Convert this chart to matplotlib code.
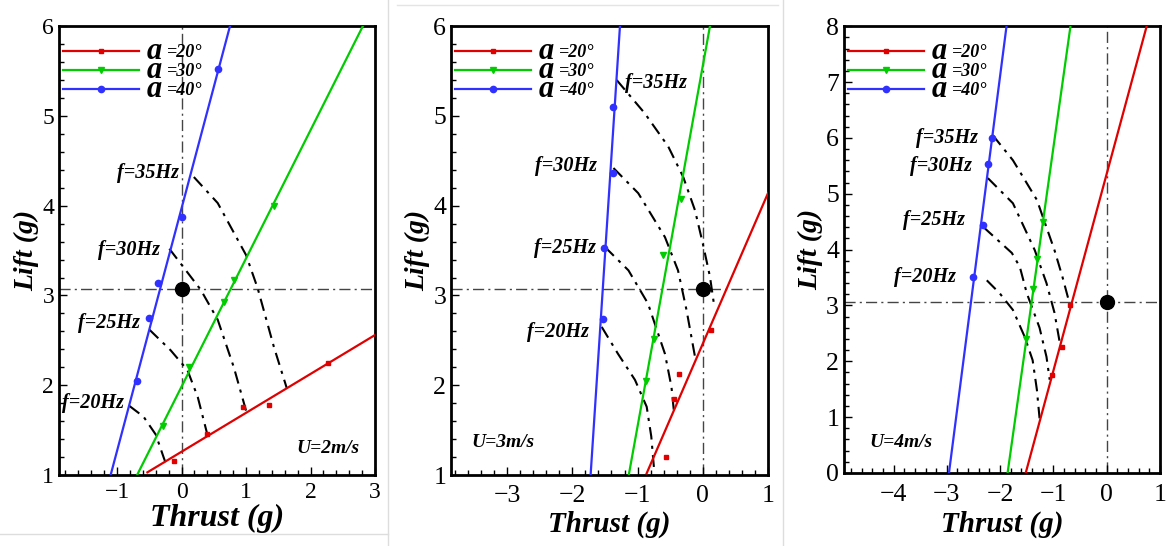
import matplotlib
matplotlib.use('Agg')
import matplotlib.pyplot as plt
from matplotlib.lines import Line2D
from matplotlib.ticker import MultipleLocator

plt.rcParams['font.family'] = 'Liberation Serif'

angles = ['20', '30', '40']
freqs = ['20', '25', '30', '35']
weight = 3.07

# ---- U = 2 m/s ----
u2_a20_x = [-0.11, 0.40, 0.95, 1.35, 2.27]
u2_a20_y = [1.16, 1.46, 1.76, 1.78, 2.25]
u2_a30_x = [-0.29, 0.11, 0.65, 0.81, 1.43]
u2_a30_y = [1.55, 2.20, 2.93, 3.17, 4.00]
u2_a40_x = [-0.69, -0.50, -0.36, 0.00, 0.57]
u2_a40_y = [2.05, 2.75, 3.14, 3.87, 5.52]
u2_fit_x = [[-0.53, 3.0], [-0.69, 2.81], [-1.10, 0.75]]
u2_fit_y = [[1.03, 2.56], [1.0, 6.0], [1.0, 6.0]]
u2_f_x = [[-0.81, -0.59, -0.40, -0.28, -0.25],
          [-0.50, -0.17, 0.09, 0.25, 0.40],
          [-0.19, -0.05, 0.30, 0.56, 0.81, 1.01],
          [0.19, 0.56, 1.00, 1.18, 1.43, 1.63]]
u2_f_y = [[1.77, 1.65, 1.45, 1.20, 1.14],
          [2.62, 2.39, 2.17, 1.87, 1.45],
          [3.52, 3.39, 3.06, 2.73, 2.20, 1.69],
          [4.32, 4.03, 3.45, 3.08, 2.43, 1.97]]
u2_lab_x = [-1.85, -1.60, -1.30, -1.00]
u2_lab_y = [1.80, 2.69, 3.51, 4.36]

# ---- U = 3 m/s ----
u3_a20_x = [-0.57, -0.44, -0.37, 0.13]
u3_a20_y = [1.20, 1.85, 2.12, 2.62]
u3_a30_x = [-0.87, -0.75, -0.61, -0.34]
u3_a30_y = [2.05, 2.52, 3.45, 4.07]
u3_a40_x = [-1.53, -1.52, -1.38, -1.38]
u3_a40_y = [2.74, 3.53, 4.36, 5.10]
u3_fit_x = [[-0.86, 1.0], [-1.135, 0.11], [-1.72, -1.27]]
u3_fit_y = [[1.02, 4.14], [1.0, 6.0], [1.0, 6.0]]
u3_f_x = [[-1.55, -1.30, -1.04, -0.86, -0.79, -0.75],
          [-1.50, -1.14, -0.84, -0.58, -0.48, -0.44],
          [-1.37, -0.99, -0.58, -0.38, -0.25, -0.12],
          [-1.32, -0.89, -0.53, -0.30, -0.12, 0.00, 0.11, 0.17]]
u3_f_y = [[2.65, 2.35, 2.06, 1.76, 1.43, 1.09],
          [3.54, 3.28, 2.91, 2.35, 1.98, 1.69],
          [4.42, 4.14, 3.65, 3.28, 2.84, 2.32],
          [5.40, 5.03, 4.66, 4.32, 3.95, 3.58, 3.21, 2.91]]
u3_lab_x = [-2.70, -2.59, -2.58, -1.20]
u3_lab_y = [2.59, 3.53, 4.44, 5.37]

# ---- U = 4 m/s ----
u4_a20_x = [-1.03, -0.84, -0.69]
u4_a20_y = [1.76, 2.26, 3.01]
u4_a30_x = [-1.52, -1.39, -1.31, -1.20]
u4_a30_y = [2.40, 3.29, 3.83, 4.49]
u4_a40_x = [-2.51, -2.33, -2.23, -2.16]
u4_a40_y = [3.51, 4.44, 5.53, 6.00]
u4_fit_x = [[-1.52, 0.75], [-1.86, -0.68], [-2.96, -1.88]]
u4_fit_y = [[0.0, 8.0], [0.0, 8.0], [0.0, 8.0]]
u4_f_x = [[-2.25, -2.01, -1.76, -1.54, -1.39, -1.31, -1.26],
          [-2.31, -1.78, -1.63, -1.50, -1.26, -1.13, -1.07],
          [-2.23, -1.76, -1.35, -1.13, -0.98, -0.88],
          [-2.14, -1.76, -1.31, -1.16, -0.98, -0.83, -0.69]]
u4_f_y = [[3.45, 3.22, 2.92, 2.44, 2.02, 1.49, 0.98],
          [4.40, 3.94, 3.69, 3.22, 2.60, 2.08, 1.67],
          [5.28, 4.83, 3.99, 3.40, 2.87, 2.33],
          [6.05, 5.60, 4.89, 4.48, 3.99, 3.51, 3.01]]
u4_lab_x = [-4.00, -3.83, -3.70, -3.57]
u4_lab_y = [3.51, 4.53, 5.50, 6.00]

colors = ['#e00000', '#00cc00', '#3030ff']
markers = ['s', 'v', 'o']
msizes = [3, 4, 4.5]


def draw_panel(ax, pts, fit_x, fit_y, f_x, f_y, lab_x, lab_y, speed, speed_pos,
               xlim, ylim, tfs, xfs, xpad, lpad):
	ax.axhline(weight, color='#444444', lw=1, ls=(0, (8, 3, 1.5, 3)), zorder=1)
	ax.axvline(0, color='#444444', lw=1, ls=(0, (8, 3, 1.5, 3)), zorder=1)
	for i in range(3):
		ax.plot(fit_x[i], fit_y[i], color=colors[i], lw=1.6, zorder=3)
		ax.plot(pts[i][0], pts[i][1], ls='none', marker=markers[i],
			ms=msizes[i], color=colors[i], zorder=4)
	for j in range(len(freqs)):
		ax.plot(f_x[j], f_y[j], color='black', lw=1.5,
			ls=(0, (6, 3, 1.5, 3)), zorder=2)
		ax.text(lab_x[j], lab_y[j], 'f=' + freqs[j] + 'Hz', fontsize=14.5,
			fontweight='bold', style='italic', ha='left', va='center')
	ax.plot([0], [weight], 'o', color='black', ms=10, zorder=5)
	ax.text(speed_pos[0], speed_pos[1], 'U=' + speed + 'm/s', fontsize=14,
		fontweight='bold', style='italic', ha='left', va='center')
	ax.set_xlim(xlim)
	ax.set_ylim(ylim)
	ax.xaxis.set_major_locator(MultipleLocator(1))
	ax.xaxis.set_minor_locator(MultipleLocator(0.2))
	ax.yaxis.set_major_locator(MultipleLocator(1))
	ax.yaxis.set_minor_locator(MultipleLocator(0.2))
	ax.tick_params(which='both', direction='in', top=False, right=False,
		labelsize=tfs, width=1)
	ax.tick_params(axis='x', which='major', pad=xpad)
	ax.tick_params(which='major', length=6)
	ax.tick_params(which='minor', length=3.5)
	for s in ax.spines.values():
		s.set_linewidth(2)
	ax.set_xlabel('Thrust (g)', fontsize=xfs, fontweight='bold', style='italic',
		labelpad=lpad)
	ax.set_ylabel('Lift (g)', fontsize=20, fontweight='bold', style='italic',
		labelpad=2)
	handles = [Line2D([], [], color=colors[i], marker=markers[i], ms=msizes[i],
		lw=1.6) for i in range(3)]
	leg = ax.legend(handles, ['=' + a + '\u00b0' for a in angles], loc='upper left',
		bbox_to_anchor=(0.013, 0.960), borderpad=0, borderaxespad=0,
		frameon=False, handlelength=4.2, handletextpad=1.55, labelspacing=0.12,
		prop={'family': 'Liberation Serif', 'weight': 'bold',
			'style': 'italic', 'size': 13})
	return leg


fig = plt.figure(figsize=(11.67, 5.46), dpi=100)
ax1 = fig.add_axes([0.0506, 0.130, 0.2708, 0.822])
ax2 = fig.add_axes([0.3865, 0.130, 0.2716, 0.822])
ax3 = fig.add_axes([0.7232, 0.1337, 0.2708, 0.8183])

legs = []
legs.append(draw_panel(ax1, [(u2_a20_x, u2_a20_y), (u2_a30_x, u2_a30_y), (u2_a40_x, u2_a40_y)],
	u2_fit_x, u2_fit_y, u2_f_x, u2_f_y, u2_lab_x, u2_lab_y, '2', (1.78, 1.30),
	(-1.9, 3.0), (1, 6), 17, 23, 5, 1))
legs.append(draw_panel(ax2, [(u3_a20_x, u3_a20_y), (u3_a30_x, u3_a30_y), (u3_a40_x, u3_a40_y)],
	u3_fit_x, u3_fit_y, u3_f_x, u3_f_y, u3_lab_x, u3_lab_y, '3', (-3.55, 1.36),
	(-3.86, 1.0), (1, 6), 18.5, 21, 7, 3))
legs.append(draw_panel(ax3, [(u4_a20_x, u4_a20_y), (u4_a30_x, u4_a30_y), (u4_a40_x, u4_a40_y)],
	u4_fit_x, u4_fit_y, u4_f_x, u4_f_y, u4_lab_x, u4_lab_y, '4', (-4.45, 0.54),
	(-4.93, 1.0), (0, 8), 18.5, 21, 8, 3))

# light separators between the stitched panels
for xs in [388 / 1167, 783 / 1167]:
	fig.add_artist(Line2D([xs, xs], [0, 1], color='#dddddd', lw=1))
fig.add_artist(Line2D([0, 388 / 1167], [12 / 546, 12 / 546], color='#dddddd', lw=1))
fig.add_artist(Line2D([397 / 1167, 778 / 1167], [541 / 546, 541 / 546], color='#e4e4e4', lw=1))

# big bold "a" in front of each legend label
fig.canvas.draw()
W, H = fig.canvas.get_width_height()
for leg in legs:
	for t in leg.get_texts():
		bb = t.get_window_extent()
		fig.text((bb.x0 - 5) / W, (bb.y0 + bb.y1) / 2 / H + 1 / H, 'a',
			fontsize=22, fontweight='bold', style='italic', ha='right', va='center')

fig.savefig('out.png', dpi=100)
